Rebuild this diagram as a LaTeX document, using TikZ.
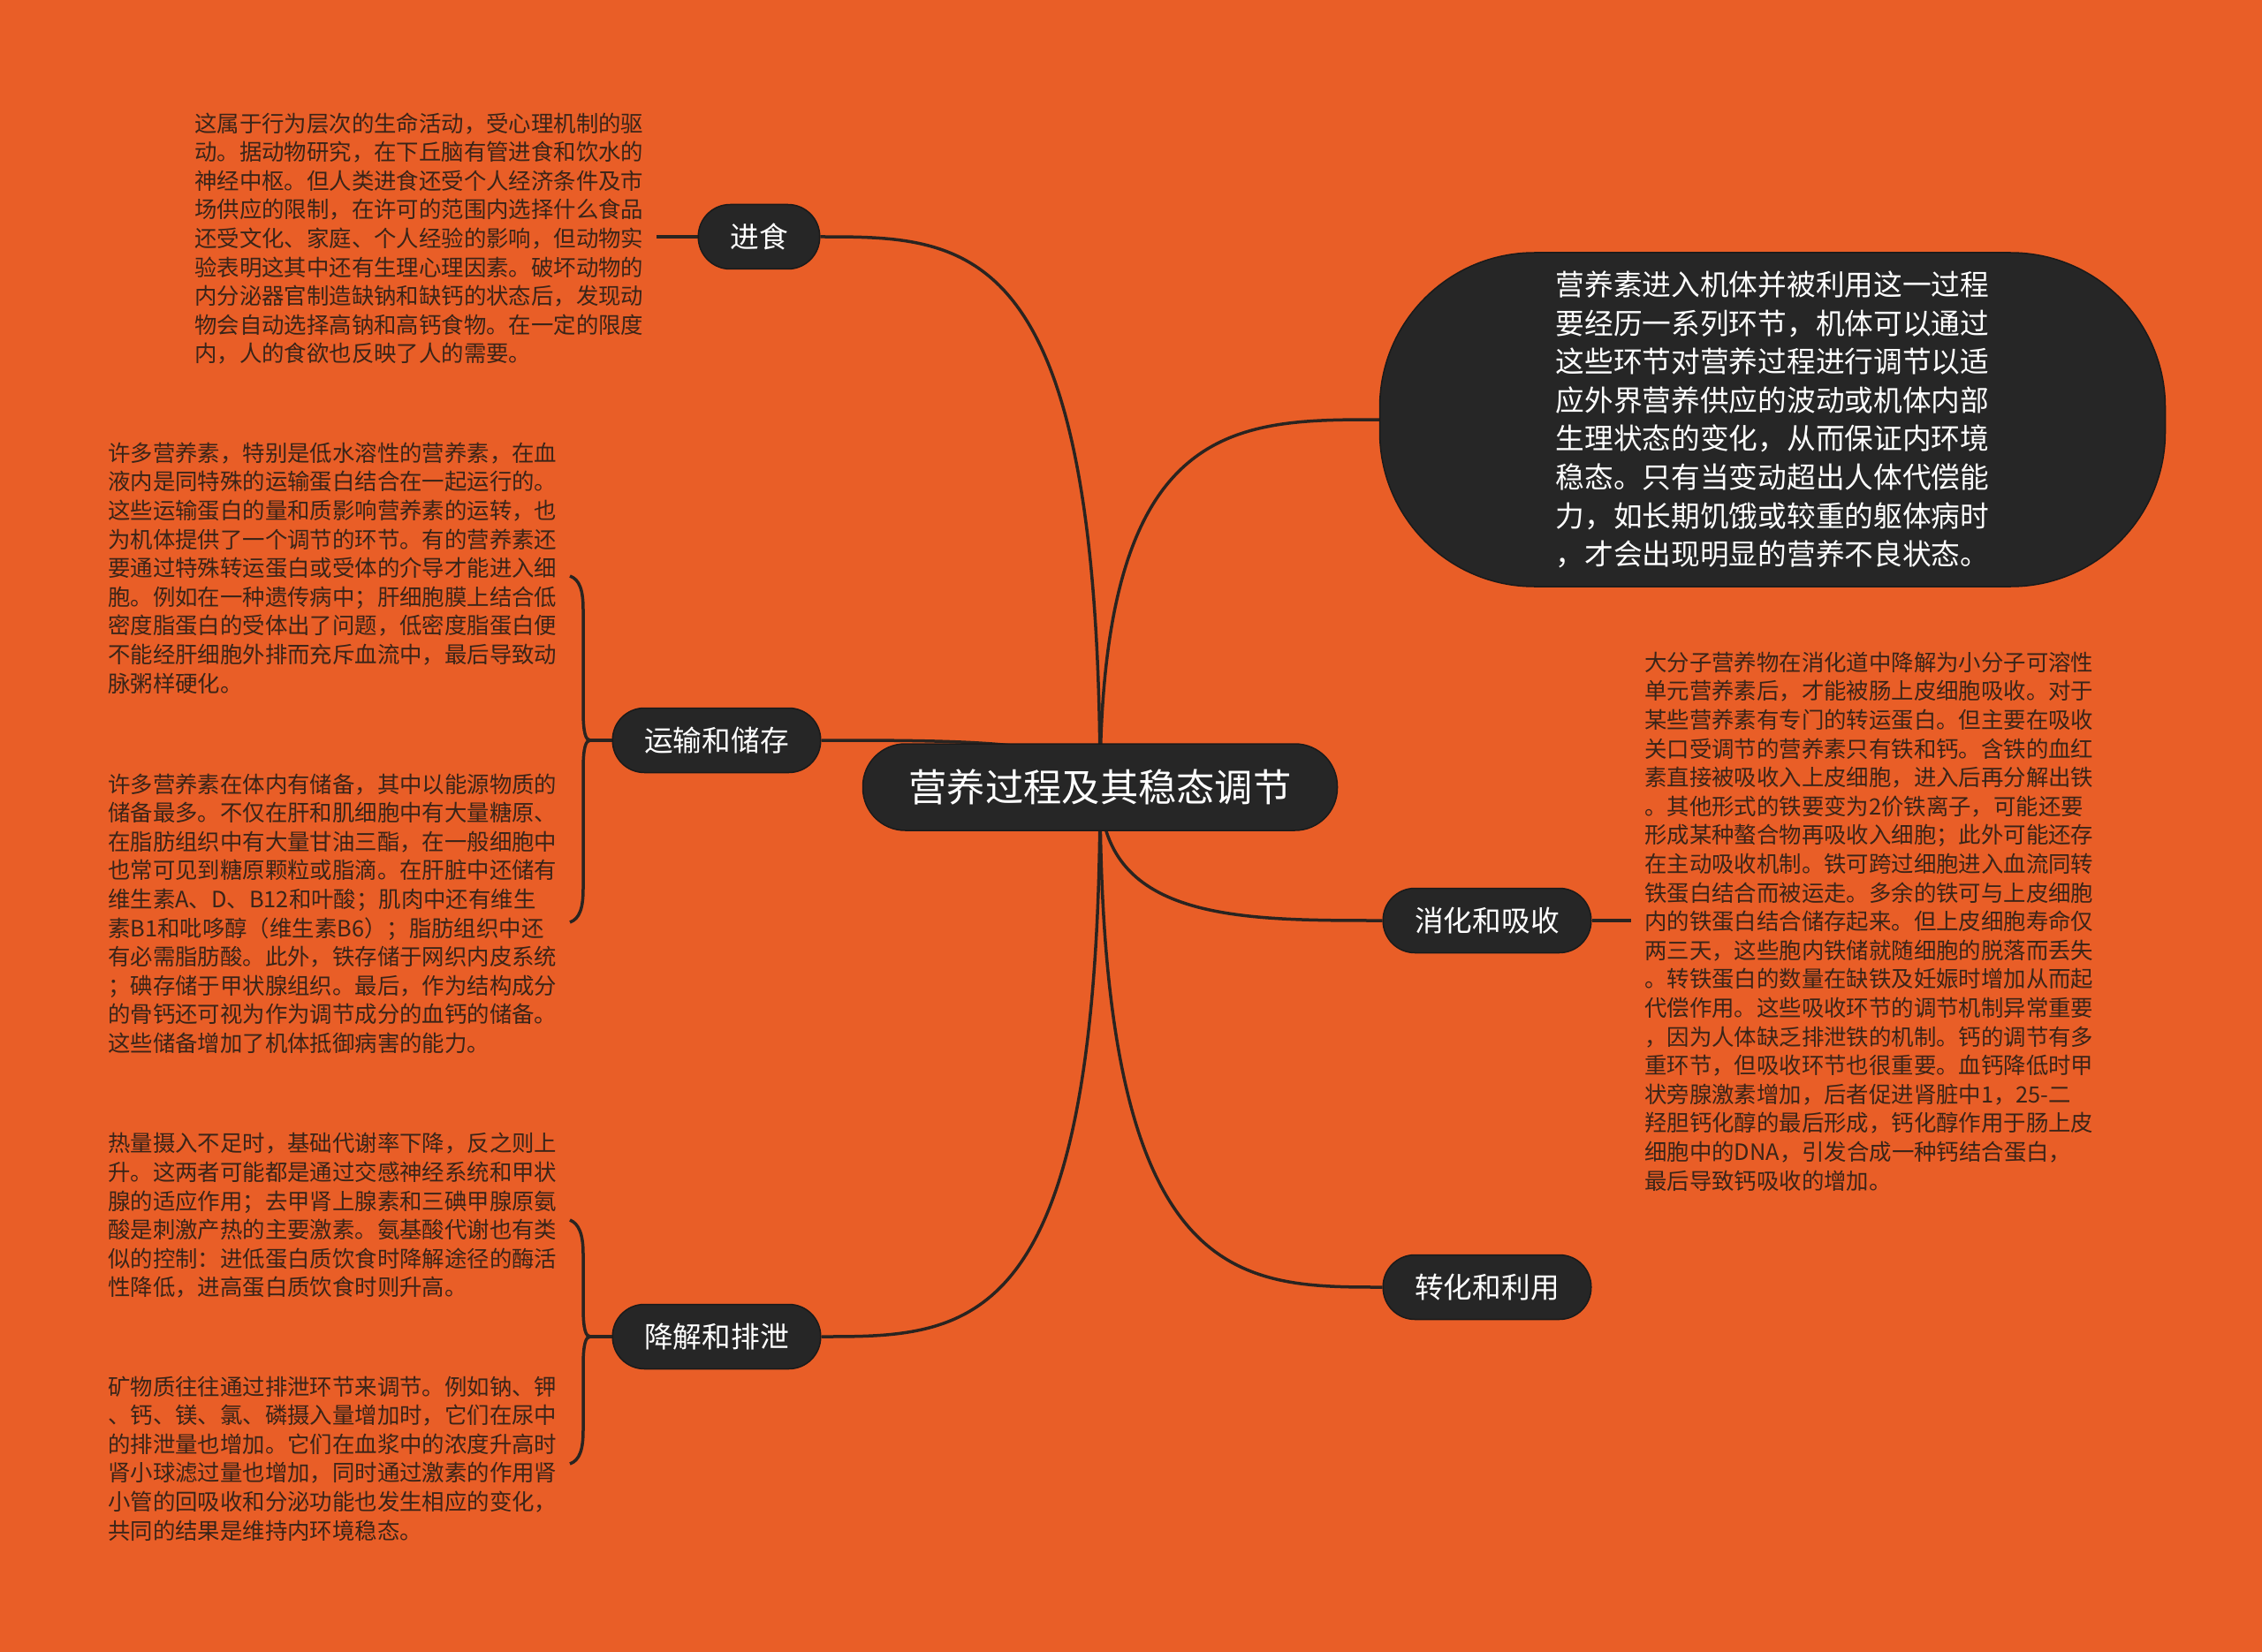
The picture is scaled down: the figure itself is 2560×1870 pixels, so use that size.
\documentclass[tikz,border=0pt]{standalone}
\usepackage{fontspec}
\setmainfont{Noto Sans CJK SC}
\usetikzlibrary{calc}
\definecolor{bgc}{HTML}{E95E27}
\definecolor{nodefill}{HTML}{262626}
\definecolor{nodeline}{HTML}{1A1A1A}
\definecolor{linec}{HTML}{2A2420}
\definecolor{leaftext}{HTML}{3A2418}
\pgfdeclarelayer{bglayer}
\pgfdeclarelayer{edges}
\pgfsetlayers{bglayer,edges,main}
\begin{document}
\begin{tikzpicture}[x=1pt,y=-1pt,
  conn/.style={draw=linec,line width=3.5pt},
  rootbox/.style={fill=nodefill,draw=nodeline,line width=1.5pt,text=white,rounded corners=48pt,minimum height=98pt,minimum width=537pt,inner xsep=0pt,inner ysep=0pt,font=\fontsize{43.3}{50}\selectfont},
  topicbox/.style={fill=nodefill,draw=nodeline,line width=1.5pt,text=white,rounded corners=36pt,minimum height=73pt,inner xsep=36pt,inner ysep=0pt,font=\fontsize{32.7}{38}\selectfont},
  leafbox/.style={text=leaftext,align=left,inner sep=0pt,font=\fontsize{25.4}{32.6}\selectfont},
  bigbox/.style={fill=nodefill,draw=nodeline,line width=1.5pt,text=white,align=left,rounded corners=175pt,minimum width=889pt,minimum height=378pt,inner sep=0pt,font=\fontsize{32.7}{43.6}\selectfont}
]
\begin{pgfonlayer}{bglayer}
\fill[bgc] (0,0) rectangle (2560,1870);
\end{pgfonlayer}
\path[use as bounding box] (0,0) rectangle (2560,1870);

% central and topic nodes
\node[rootbox] (root) at (1245,891) {营养过程及其稳态调节};
\node[topicbox] (t1) at (859,268) {进食};
\node[topicbox] (t2) at (811,838) {运输和储存};
\node[topicbox] (t3) at (811,1513) {降解和排泄};
\node[topicbox] (t4) at (1683,1042) {消化和吸收};
\node[topicbox] (t5) at (1683,1457) {转化和利用};
\node[bigbox] (big) at (2006,475) {营养素进入机体并被利用这一过程\\
要经历一系列环节，机体可以通过\\
这些环节对营养过程进行调节以适\\
应外界营养供应的波动或机体内部\\
生理状态的变化，从而保证内环境\\
稳态。只有当变动超出人体代偿能\\
力，如长期饥饿或较重的躯体病时\\
，才会出现明显的营养不良状态。};

% leaf texts
\node[leafbox,anchor=west] (l1) at (220,270) {这属于行为层次的生命活动，受心理机制的驱\\
动。据动物研究，在下丘脑有管进食和饮水的\\
神经中枢。但人类进食还受个人经济条件及市\\
场供应的限制，在许可的范围内选择什么食品\\
还受文化、家庭、个人经验的影响，但动物实\\
验表明这其中还有生理心理因素。破坏动物的\\
内分泌器官制造缺钠和缺钙的状态后，发现动\\
物会自动选择高钠和高钙食物。在一定的限度\\
内，人的食欲也反映了人的需要。};

\node[leafbox,anchor=west] (l2a) at (122,643) {许多营养素，特别是低水溶性的营养素，在血\\
液内是同特殊的运输蛋白结合在一起运行的。\\
这些运输蛋白的量和质影响营养素的运转，也\\
为机体提供了一个调节的环节。有的营养素还\\
要通过特殊转运蛋白或受体的介导才能进入细\\
胞。例如在一种遗传病中；肝细胞膜上结合低\\
密度脂蛋白的受体出了问题，低密度脂蛋白便\\
不能经肝细胞外排而充斥血流中，最后导致动\\
脉粥样硬化。};

\node[leafbox,anchor=west] (l2b) at (122,1034) {许多营养素在体内有储备，其中以能源物质的\\
储备最多。不仅在肝和肌细胞中有大量糖原、\\
在脂肪组织中有大量甘油三酯，在一般细胞中\\
也常可见到糖原颗粒或脂滴。在肝脏中还储有\\
维生素A、D、B12和叶酸；肌肉中还有维生\\
素B1和吡哆醇（维生素B6）；脂肪组织中还\\
有必需脂肪酸。此外，铁存储于网织内皮系统\\
；碘存储于甲状腺组织。最后，作为结构成分\\
的骨钙还可视为作为调节成分的血钙的储备。\\
这些储备增加了机体抵御病害的能力。};

\node[leafbox,anchor=west] (l3a) at (122,1376) {热量摄入不足时，基础代谢率下降，反之则上\\
升。这两者可能都是通过交感神经系统和甲状\\
腺的适应作用；去甲肾上腺素和三碘甲腺原氨\\
酸是刺激产热的主要激素。氨基酸代谢也有类\\
似的控制：进低蛋白质饮食时降解途径的酶活\\
性降低，进高蛋白质饮食时则升高。};

\node[leafbox,anchor=west] (l3b) at (122,1651) {矿物质往往通过排泄环节来调节。例如钠、钾\\
、钙、镁、氯、磷摄入量增加时，它们在尿中\\
的排泄量也增加。它们在血浆中的浓度升高时\\
肾小球滤过量也增加，同时通过激素的作用肾\\
小管的回吸收和分泌功能也发生相应的变化，\\
共同的结果是维持内环境稳态。};

\node[leafbox,anchor=west] (l4) at (1861,1043) {大分子营养物在消化道中降解为小分子可溶性\\
单元营养素后，才能被肠上皮细胞吸收。对于\\
某些营养素有专门的转运蛋白。但主要在吸收\\
关口受调节的营养素只有铁和钙。含铁的血红\\
素直接被吸收入上皮细胞，进入后再分解出铁\\
。其他形式的铁要变为2价铁离子，可能还要\\
形成某种螯合物再吸收入细胞；此外可能还存\\
在主动吸收机制。铁可跨过细胞进入血流同转\\
铁蛋白结合而被运走。多余的铁可与上皮细胞\\
内的铁蛋白结合储存起来。但上皮细胞寿命仅\\
两三天，这些胞内铁储就随细胞的脱落而丢失\\
。转铁蛋白的数量在缺铁及妊娠时增加从而起\\
代偿作用。这些吸收环节的调节机制异常重要\\
，因为人体缺乏排泄铁的机制。钙的调节有多\\
重环节，但吸收环节也很重要。血钙降低时甲\\
状旁腺激素增加，后者促进肾脏中1，25-二\\
羟胆钙化醇的最后形成，钙化醇作用于肠上皮\\
细胞中的DNA，引发合成一种钙结合蛋白，\\
最后导致钙吸收的增加。};

% brace coordinates
\coordinate (j2) at (668,838);
\coordinate (b2t) at (645,652);
\coordinate (b2b) at (645,1044);
\coordinate (j3) at (668,1513);
\coordinate (b3t) at (645,1381);
\coordinate (b3b) at (645,1657);

\begin{pgfonlayer}{edges}
% root to topics
\draw[conn] (root.center) .. controls (root.center |- t1.east) and ($(t1.east)+(170,0)$) .. (t1.east);
\draw[conn] (root.center) .. controls (root.center |- t2.east) and ($(t2.east)+(170,0)$) .. (t2.east);
\draw[conn] (root.center) .. controls (root.center |- t3.east) and ($(t3.east)+(170,0)$) .. (t3.east);
\draw[conn] (root.center) .. controls (root.center |- t4.west) and ($(t4.west)+(-165,0)$) .. (t4.west);
\draw[conn] (root.center) .. controls (root.center |- t5.west) and ($(t5.west)+(-165,0)$) .. (t5.west);
\draw[conn] (root.center) .. controls (root.center |- big.west) and ($(big.west)+(-165,0)$) .. (big.west);
% topics to leaves
\draw[conn] (t1.west) -- ++(-47,0);
\draw[conn] (t4.east) -- ++(44,0);
% braces
\draw[conn] (t2.west) -- (j2);
\draw[conn] (b2t) .. controls (656,656) and (660,668) .. (660,690) -- (660,805) .. controls (660,830) and (663,838) .. (j2);
\draw[conn] (b2b) .. controls (656,1040) and (660,1028) .. (660,1006) -- (660,871) .. controls (660,846) and (663,838) .. (j2);
\draw[conn] (t3.west) -- (j3);
\draw[conn] (b3t) .. controls (655,1385) and (660,1397) .. (660,1419) -- (660,1480) .. controls (660,1505) and (663,1513) .. (j3);
\draw[conn] (b3b) .. controls (656,1653) and (660,1641) .. (660,1619) -- (660,1546) .. controls (660,1521) and (663,1513) .. (j3);
\end{pgfonlayer}
\end{tikzpicture}
\end{document}
